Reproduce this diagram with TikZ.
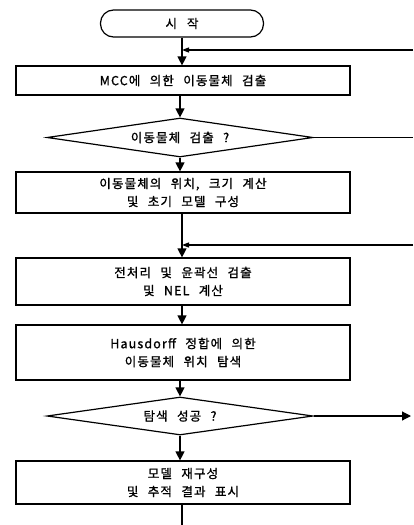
\documentclass[tikz,border=0pt]{standalone}
\usepackage{fontspec}
\setmainfont{Noto Sans CJK KR}[WordSpace=2.4,LetterSpace=9,FakeBold=1.2]
\usetikzlibrary{shapes.geometric,arrows.meta}
\begin{document}
\begin{tikzpicture}[x=1pt,y=-1pt,
  every node/.style={font=\fontsize{12.5}{18}\selectfont,align=center,inner sep=0pt},
  procbox/.style={draw,line width=1.2pt,minimum width=334pt},
  decbox/.style={draw,diamond,line width=1.2pt,minimum width=266pt},
  termbox/.style={draw,rounded corners=13pt,line width=1.2pt,minimum width=163pt,minimum height=27pt},
  flow/.style={line width=1.2pt,-{Triangle[length=9pt,width=9pt]}},
  back/.style={line width=1.2pt,-{Triangle[length=7pt,width=5pt]}},
  plain/.style={line width=1.2pt}]
\useasboundingbox (0,0) rectangle (413,525);
\node[termbox] (start) at (182,23.5) {시\hspace{10pt}작};
\node[procbox,minimum height=29pt] (b1) at (183,80.5) {MCC에 의한 이동물체 검출};
\node[decbox,aspect=6.8,minimum height=39pt] (d1) at (180,137.5) {이동물체 검출 ?};
\node[procbox,minimum height=41pt] (b2) at (183,192.5) {이동물체의 위치, 크기 계산\\및 초기 모델 구성};
\node[procbox,minimum height=47pt] (b3) at (183,281.5) {전처리 및 윤곽선 검출\\및 NEL 계산};
\node[procbox,minimum height=55pt] (b4) at (183,352.5) {Hausdorff 정합에 의한\\이동물체 위치 탐색};
\node[decbox,aspect=7,minimum height=38pt] (d2) at (180,416) {탐색 성공 ?};
\node[procbox,minimum height=43pt] (b5) at (183,482.5) {모델 재구성\\및 추적 결과 표시};
\coordinate (m1) at (182,50);
\coordinate (r1) at (413,50);
\coordinate (r2) at (413,137.5);
\coordinate (m2) at (182,245);
\coordinate (r3) at (413,245);
\coordinate (r4) at (411,416);
\coordinate (e) at (182,525);
\draw[plain] (start.south -| m1) -- (m1);
\draw[flow] (m1) -- (m1 |- b1.north);
\draw[back] (r1) -- (m1);
\draw[flow] (b1.south -| d1.north) -- (d1.north);
\draw[plain] (d1.east) -- (r2);
\draw[flow] (d1.south) -- (d1.south |- b2.north);
\draw[plain] (b2.south -| m2) -- (m2);
\draw[flow] (m2) -- (m2 |- b3.north);
\draw[back] (r3) -- (m2);
\draw[flow] (b3.south -| m2) -- (m2 |- b4.north);
\draw[flow] (b4.south -| d2.north) -- (d2.north);
\draw[flow] (d2.east) -- (r4);
\draw[flow] (d2.south) -- (d2.south |- b5.north);
\draw[plain] (b5.south -| e) -- (e);
\end{tikzpicture}
\end{document}
